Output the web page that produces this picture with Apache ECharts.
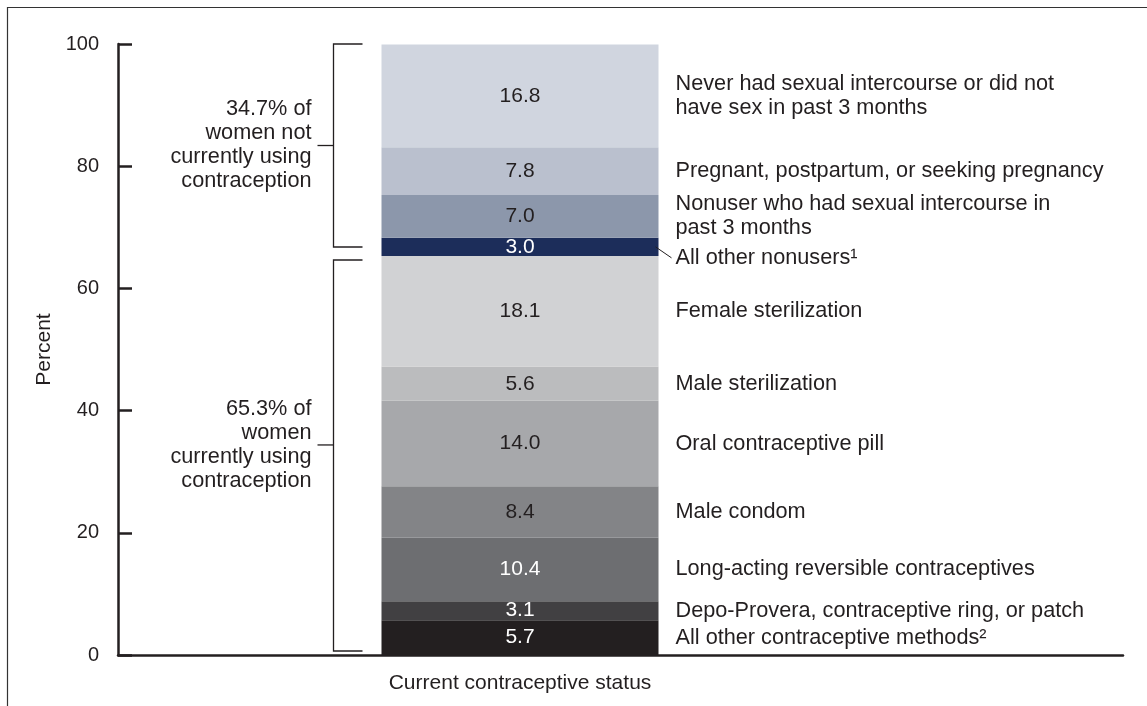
<!DOCTYPE html>
<html>
<head>
<meta charset="utf-8">
<script src="https://cdn.jsdelivr.net/npm/echarts@6/dist/echarts.min.js"></script>
<style>
    html, body { margin: 0; padding: 0; background: #fff; }
    #main { width: 1147px; height: 706px; }
</style>
</head>
<body>
<div id="main"></div>
<script>
// x axis: one bar, placed in slot 2 of 6 (boundaryGap off)
var statusCategory = 'Current contraceptive status';
var xSlots = ['', '', statusCategory, '', '', ''];

// segments, bottom -> top
var segmentNames = [
    'All other contraceptive methods²',
    'Depo-Provera, contraceptive ring, or patch',
    'Long-acting reversible contraceptives',
    'Male condom',
    'Oral contraceptive pill',
    'Male sterilization',
    'Female sterilization',
    'All other nonusers¹',
    'Nonuser who had sexual intercourse in\npast 3 months',
    'Pregnant, postpartum, or seeking pregnancy',
    'Never had sexual intercourse or did not\nhave sex in past 3 months'
];
var segmentValues = [5.7, 3.1, 10.4, 8.4, 14.0, 5.6, 18.1, 3.0, 7.0, 7.8, 16.8];
var segmentColors = ['#231f20', '#414042', '#6d6e71', '#838487', '#a7a8ab', '#bbbcbe',
                     '#d1d2d4', '#1c2d5a', '#8c97ab', '#bac0ce', '#d0d5df'];
var whiteText = [true, true, true, false, false, false, false, true, false, false, false];

// brackets on the left
var bracketRanges = [[0, 65.3], [65.3, 100]];
var bracketTexts = [
    '65.3% of\nwomen\ncurrently using\ncontraception',
    '34.7% of\nwomen not\ncurrently using\ncontraception'
];

var ink = '#231f20';
var font = "'Liberation Sans', Arial, sans-serif";
var fs = 21;        // values, axis name
var labelFs = 21.7; // side labels
var tickFs = 20;    // axis numbers
var barWidth = 277;
var calloutIndex = 7; // "All other nonusers" label pushed down with a leader line

// build stacked data [slot, base, top, value, index]
var slot = xSlots.indexOf(statusCategory);
var segData = [];
var acc = 0;
for (var i = 0; i < segmentValues.length; i++) {
    segData.push([slot, acc, acc + segmentValues[i], segmentValues[i], i]);
    acc += segmentValues[i];
}
var bracketData = [];
for (var j = 0; j < bracketRanges.length; j++) {
    bracketData.push([slot, bracketRanges[j][0], bracketRanges[j][1], j]);
}

var chart = echarts.init(document.getElementById('main'));

var option = {
    animation: false,
    textStyle: { fontFamily: font },
    grid: { left: 118, right: 24, top: 44, bottom: 51 },
    graphic: [{
        type: 'rect',
        shape: { x: 7.5, y: 7.5, width: 1400, height: 1000 },
        style: { fill: 'none', stroke: '#333', lineWidth: 1.2 },
        silent: true
    }],
    xAxis: {
        type: 'category',
        data: xSlots,
        boundaryGap: false,
        axisLine: { lineStyle: { color: ink, width: 2.5 } },
        axisTick: { show: false },
        axisLabel: { interval: 0, color: ink, fontSize: fs, fontFamily: font, margin: 18 }
    },
    yAxis: {
        type: 'value',
        min: 0,
        max: 100,
        interval: 20,
        name: 'Percent',
        nameLocation: 'middle',
        nameGap: 62,
        nameTextStyle: { color: ink, fontSize: fs, fontFamily: font },
        axisLine: { show: true, lineStyle: { color: ink, width: 2.5 } },
        axisTick: { show: true, inside: true, length: 14, lineStyle: { color: ink, width: 2.5 } },
        axisLabel: { color: ink, fontSize: tickFs, fontFamily: font, margin: 19 },
        splitLine: { show: false }
    },
    series: [
        {
            type: 'custom',
            name: 'segments',
            data: segData,
            renderItem: function (params, api) {
                var idx = api.value(4);
                var pLo = api.coord([api.value(0), api.value(1)]);
                var pHi = api.coord([api.value(0), api.value(2)]);
                var left = pLo[0] - barWidth / 2;
                var right = pLo[0] + barWidth / 2;
                var midY = (pLo[1] + pHi[1]) / 2;
                var children = [{
                    type: 'rect',
                    shape: { x: left, y: pHi[1], width: barWidth, height: pLo[1] - pHi[1] },
                    style: { fill: segmentColors[idx] }
                }, {
                    type: 'text',
                    style: {
                        x: pLo[0], y: midY,
                        text: api.value(3).toFixed(1),
                        fill: whiteText[idx] ? '#fff' : ink,
                        font: fs + 'px ' + font,
                        align: 'center', verticalAlign: 'middle'
                    }
                }];
                var labelY = midY;
                if (idx === calloutIndex) {
                    labelY = midY + 11;
                    children.push({
                        type: 'line',
                        shape: { x1: right - 3, y1: midY, x2: right + 13, y2: labelY },
                        style: { stroke: ink, lineWidth: 1 }
                    });
                }
                children.push({
                    type: 'text',
                    style: {
                        x: right + 17, y: labelY,
                        text: segmentNames[idx],
                        fill: ink,
                        font: labelFs + 'px ' + font,
                        lineHeight: 24,
                        align: 'left', verticalAlign: 'middle'
                    }
                });
                return { type: 'group', children: children };
            },
            z: 2
        },
        {
            type: 'custom',
            name: 'brackets',
            data: bracketData,
            renderItem: function (params, api) {
                var k = api.value(3);
                var pLo = api.coord([api.value(0), api.value(1)]);
                var pHi = api.coord([api.value(0), api.value(2)]);
                var barLeft = pLo[0] - barWidth / 2;
                var armX = barLeft - 19;
                var vx = barLeft - 48;
                var top = k === 1 ? pHi[1] : pHi[1] + 4;
                var bot = k === 1 ? pLo[1] - 9 : pLo[1] - 4;
                var tickY = top + (bot - top) * (k === 1 ? 0.5 : 0.473);
                return {
                    type: 'group',
                    children: [{
                        type: 'polyline',
                        shape: { points: [[armX, top], [vx, top], [vx, bot], [armX, bot]] },
                        style: { stroke: ink, lineWidth: 1.3, fill: 'none' }
                    }, {
                        type: 'line',
                        shape: { x1: vx - 16, y1: tickY, x2: vx, y2: tickY },
                        style: { stroke: ink, lineWidth: 1.3 }
                    }, {
                        type: 'text',
                        style: {
                            x: vx - 22, y: tickY,
                            text: bracketTexts[k],
                            fill: ink,
                            font: labelFs + 'px ' + font,
                            lineHeight: 24,
                            align: 'right', verticalAlign: 'middle'
                        }
                    }]
                };
            },
            z: 3
        }
    ]
};

chart.setOption(option);
</script>
</body>
</html>
